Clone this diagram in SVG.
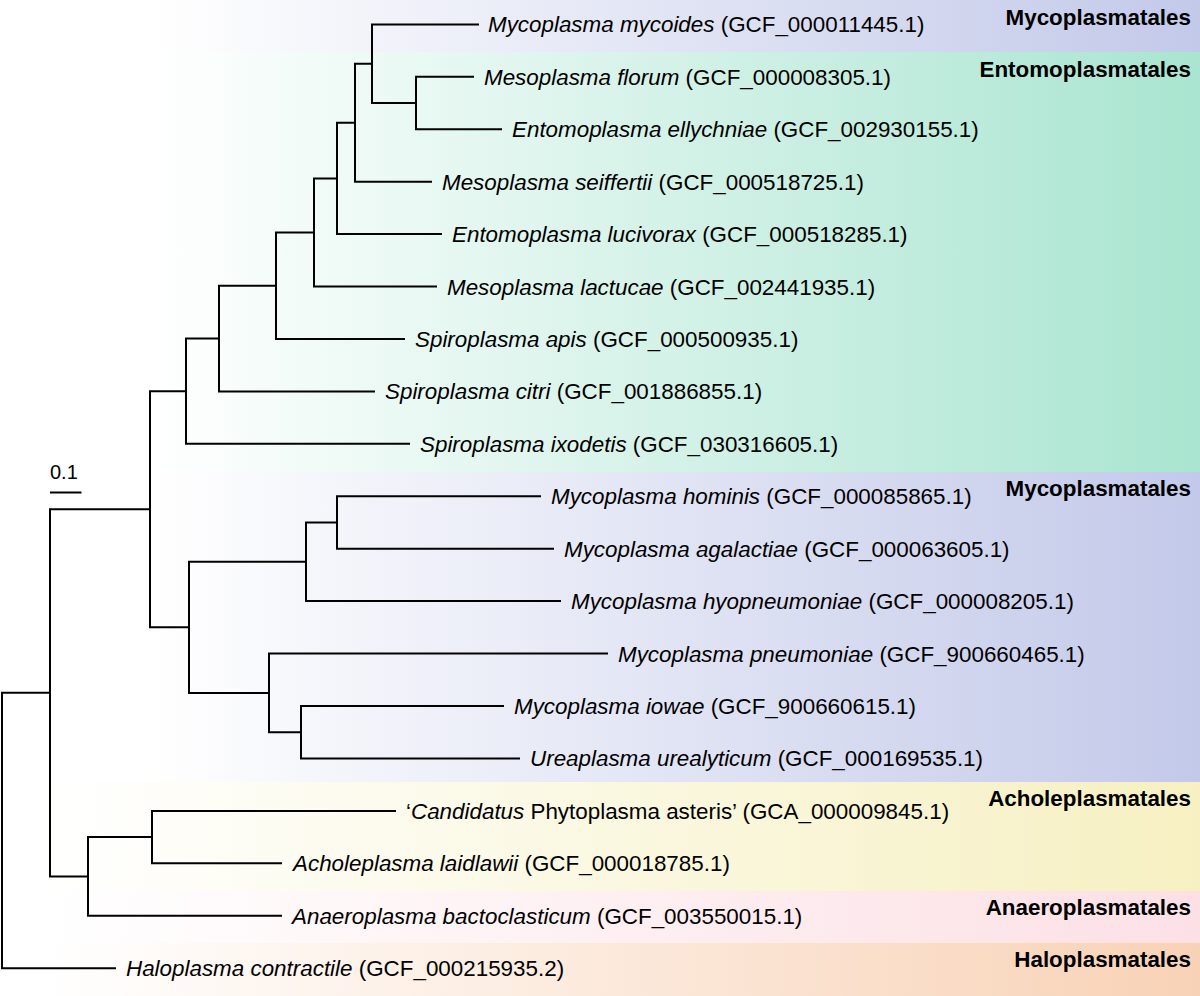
<svg xmlns="http://www.w3.org/2000/svg" width="1200" height="996" viewBox="0 0 1200 996">
<style>
.lbl{font-family:"Liberation Sans",Arial,sans-serif;font-size:22.4px;fill:#000}
.i{font-style:italic}
.ord{font-family:"Liberation Sans",Arial,sans-serif;font-size:22.4px;font-weight:bold;fill:#000;text-anchor:end}
.br{fill:none;stroke:#000;stroke-width:2;stroke-linejoin:miter;stroke-linecap:butt}
.sc{font-family:"Liberation Sans",Arial,sans-serif;font-size:20px;fill:#000}
</style>
<defs>
<linearGradient id="gMyco" gradientUnits="userSpaceOnUse" x1="150" y1="0" x2="1200" y2="0"><stop offset="0" stop-color="#ffffff"/><stop offset="1" stop-color="#c3c9e9"/></linearGradient>
<linearGradient id="gEnto" gradientUnits="userSpaceOnUse" x1="150" y1="0" x2="1200" y2="0"><stop offset="0" stop-color="#ffffff"/><stop offset="1" stop-color="#a9e5d0"/></linearGradient>
<linearGradient id="gAcho" gradientUnits="userSpaceOnUse" x1="40" y1="0" x2="1200" y2="0"><stop offset="0" stop-color="#ffffff"/><stop offset="1" stop-color="#f6f0c2"/></linearGradient>
<linearGradient id="gAnae" gradientUnits="userSpaceOnUse" x1="40" y1="0" x2="1200" y2="0"><stop offset="0" stop-color="#ffffff"/><stop offset="1" stop-color="#fce0e5"/></linearGradient>
<linearGradient id="gHalo" gradientUnits="userSpaceOnUse" x1="40" y1="0" x2="1200" y2="0"><stop offset="0" stop-color="#ffffff"/><stop offset="1" stop-color="#f8d2b6"/></linearGradient>
</defs>
<rect width="1200" height="996" fill="#ffffff"/>
<g id="bands">
<rect x="0" y="0" width="1200" height="52" fill="url(#gMyco)"/>
<rect x="0" y="52" width="1200" height="420" fill="url(#gEnto)"/>
<rect x="0" y="472" width="1200" height="310" fill="url(#gMyco)"/>
<rect x="0" y="782" width="1200" height="109" fill="url(#gAcho)"/>
<rect x="0" y="891" width="1200" height="52" fill="url(#gAnae)"/>
<rect x="0" y="943" width="1200" height="53" fill="url(#gHalo)"/>
</g>
<g id="order-labels">
<g id="ord-myco1"><text class="ord" x="1191" y="25">Mycoplasmatales</text></g>
<g id="ord-ento"><text class="ord" x="1191" y="77">Entomoplasmatales</text></g>
<g id="ord-myco2"><text class="ord" x="1191" y="496">Mycoplasmatales</text></g>
<g id="ord-acho"><text class="ord" x="1191" y="806">Acholeplasmatales</text></g>
<g id="ord-anae"><text class="ord" x="1191" y="915">Anaeroplasmatales</text></g>
<g id="ord-halo"><text class="ord" x="1191" y="967">Haloplasmatales</text></g>
</g>
<g id="connectors">
<path class="br" d="M479,24.4 H372 V103.05 H416"/>
<path class="br" d="M474,76.8 H416 V129.3 H502"/>
<path class="br" d="M372,63.7 H355 V181.7 H432"/>
<path class="br" d="M355,122.7 H337 V234.1 H442"/>
<path class="br" d="M337,178.4 H314 V286.6 H437"/>
<path class="br" d="M314,232.5 H276 V339 H405"/>
<path class="br" d="M276,285.75 H219 V391.4 H375"/>
<path class="br" d="M219,338.6 H186 V443.8 H410"/>
<path class="br" d="M541,496.3 H337 V548.7 H554"/>
<path class="br" d="M337,522.5 H306 V601.1 H561"/>
<path class="br" d="M504,706 H301 V758.4 H520"/>
<path class="br" d="M608,653.6 H269 V732.2 H301"/>
<path class="br" d="M306,561.8 H189 V692.9 H269"/>
<path class="br" d="M186,391.2 H150 V627.35 H189"/>
<path class="br" d="M396,810.9 H152 V863.3 H282"/>
<path class="br" d="M152,837.1 H88 V915.7 H282"/>
<path class="br" d="M150,509.3 H50 V876.4 H88"/>
<path class="br" d="M50,692.85 H2 V968.2 H116"/>
</g>
<g id="scale-bar">
<text class="sc" x="50" y="479">0.1</text>
<path class="br" d="M50,492.5 H81.5"/>
</g>
<g id="leaves">
<g id="leaf-1"><text class="lbl" x="488" y="32.4"><tspan class="i">Mycoplasma mycoides</tspan> (GCF_000011445.1)</text></g>
<g id="leaf-2"><text class="lbl" x="484" y="84.8"><tspan class="i">Mesoplasma florum</tspan> (GCF_000008305.1)</text></g>
<g id="leaf-3"><text class="lbl" x="512" y="137.3"><tspan class="i">Entomoplasma ellychniae</tspan> (GCF_002930155.1)</text></g>
<g id="leaf-4"><text class="lbl" x="442" y="189.7"><tspan class="i">Mesoplasma seiffertii</tspan> (GCF_000518725.1)</text></g>
<g id="leaf-5"><text class="lbl" x="452" y="242.1"><tspan class="i">Entomoplasma lucivorax</tspan> (GCF_000518285.1)</text></g>
<g id="leaf-6"><text class="lbl" x="447" y="294.6"><tspan class="i">Mesoplasma lactucae</tspan> (GCF_002441935.1)</text></g>
<g id="leaf-7"><text class="lbl" x="415" y="347"><tspan class="i">Spiroplasma apis</tspan> (GCF_000500935.1)</text></g>
<g id="leaf-8"><text class="lbl" x="385" y="399.4"><tspan class="i">Spiroplasma citri</tspan> (GCF_001886855.1)</text></g>
<g id="leaf-9"><text class="lbl" x="420" y="451.8"><tspan class="i">Spiroplasma ixodetis</tspan> (GCF_030316605.1)</text></g>
<g id="leaf-10"><text class="lbl" x="551" y="504.3"><tspan class="i">Mycoplasma hominis</tspan> (GCF_000085865.1)</text></g>
<g id="leaf-11"><text class="lbl" x="564" y="556.7"><tspan class="i">Mycoplasma agalactiae</tspan> (GCF_000063605.1)</text></g>
<g id="leaf-12"><text class="lbl" x="571" y="609.1"><tspan class="i">Mycoplasma hyopneumoniae</tspan> (GCF_000008205.1)</text></g>
<g id="leaf-13"><text class="lbl" x="618" y="661.6"><tspan class="i">Mycoplasma pneumoniae</tspan> (GCF_900660465.1)</text></g>
<g id="leaf-14"><text class="lbl" x="514" y="714"><tspan class="i">Mycoplasma iowae</tspan> (GCF_900660615.1)</text></g>
<g id="leaf-15"><text class="lbl" x="530" y="766.4"><tspan class="i">Ureaplasma urealyticum</tspan> (GCF_000169535.1)</text></g>
<g id="leaf-16"><text class="lbl" x="406" y="818.9">‘<tspan class="i">Candidatus</tspan> Phytoplasma asteris’ (GCA_000009845.1)</text></g>
<g id="leaf-17"><text class="lbl" x="293" y="871.3"><tspan class="i">Acholeplasma laidlawii</tspan> (GCF_000018785.1)</text></g>
<g id="leaf-18"><text class="lbl" x="292" y="923.7"><tspan class="i">Anaeroplasma bactoclasticum</tspan> (GCF_003550015.1)</text></g>
<g id="leaf-19"><text class="lbl" x="126" y="976.2"><tspan class="i">Haloplasma contractile</tspan> (GCF_000215935.2)</text></g>
</g>
</svg>
